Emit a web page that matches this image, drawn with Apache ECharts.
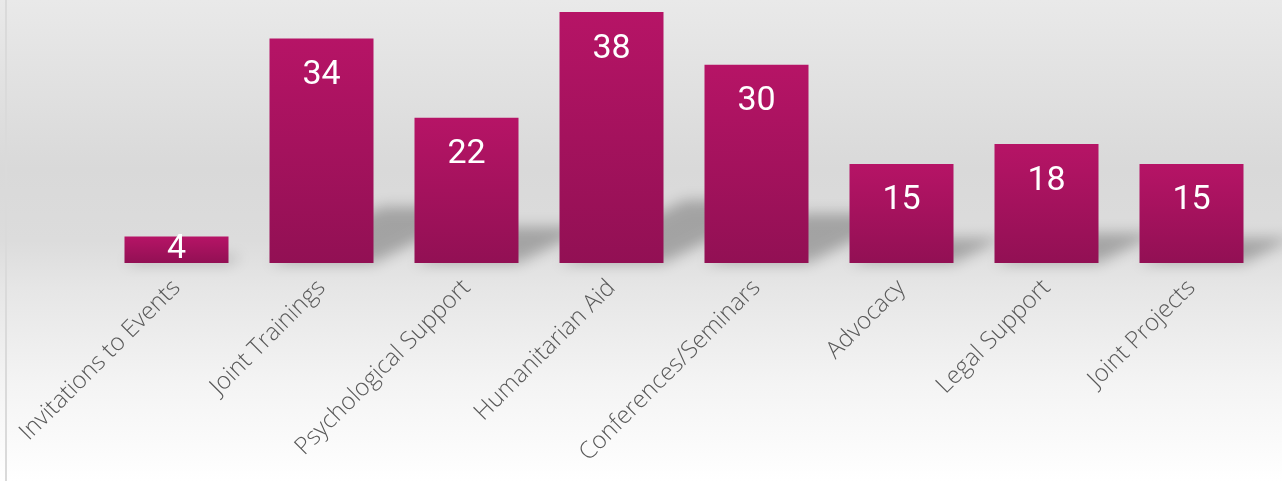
<!DOCTYPE html>
<html><head><meta charset="utf-8">
<script src="https://cdn.jsdelivr.net/npm/echarts@6/dist/echarts.min.js"></script>
<style>html,body{margin:0;padding:0;overflow:hidden;} #c{width:1282px;height:481px;}</style>
</head><body><div id="c"></div>
<script>
const categories = ['Invitations to Events','Joint Trainings','Psychological Support','Humanitarian Aid','Conferences/Seminars','Advocacy','Legal Support','Joint Projects'];
const values = [4, 34, 22, 38, 30, 15, 18, 15];
const yMax = 38;

const chart = echarts.init(document.getElementById('c'), null, {renderer: 'canvas'});
const BAR_W = 104;
const OFF = 3000;

const barData = values.map(v => v < 6 ? {value: v, label: {position: 'inside', distance: 0}} : v);

chart.setOption({
  animation: false,
  backgroundColor: {
    type: 'linear', x: 0, y: 0, x2: 0, y2: 1,
    colorStops: [
      {offset: 0, color: '#e9e9e9'},
      {offset: 0.35, color: '#d9d9d9'},
      {offset: 0.5, color: '#dcdcdc'},
      {offset: 0.6, color: '#e6e6e6'},
      {offset: 0.8, color: '#f4f4f4'},
      {offset: 1, color: '#ffffff'}
    ]
  },
  graphic: [{type: 'rect', left: 5, top: 0, shape: {width: 2, height: 481}, style: {fill: '#dadada'}, z: 0}],
  grid: {left: 104, right: 18, top: 12, bottom: 218, containLabel: false},
  xAxis: {
    type: 'category', data: categories,
    axisLine: {show: false}, axisTick: {show: false},
    axisLabel: {interval: 0, rotate: 45, margin: 21, fontFamily: 'Open Sans', fontWeight: 300, fontSize: 24, color: '#595959'}
  },
  yAxis: {type: 'value', min: 0, max: yMax, show: false, splitLine: {show: false}},
  series: [
    {
      type: 'custom', z: 1, clip: false, silent: true,
      data: values.map((v, i) => [i, v]),
      renderItem: function (params, api) {
        const base = api.coord([api.value(0), 0]);
        const top = api.coord([api.value(0), api.value(1)]);
        const h = base[1] - top[1];
        const hs = 0.25 * h;
        const s = 2 * hs;
        const x0 = base[0] - BAR_W / 2, x1 = base[0] + BAR_W / 2, y0 = base[1];
        return {
          type: 'polygon',
          shape: {points: [[x0 - OFF, y0], [x1 - OFF, y0], [x1 + s - OFF, y0 - hs], [x0 + s - OFF, y0 - hs]]},
          style: {fill: '#000', shadowBlur: 14, shadowColor: 'rgba(0,0,0,0.26)', shadowOffsetX: OFF, shadowOffsetY: 0}
        };
      }
    },
    {
      type: 'bar', z: 2, data: barData, barWidth: BAR_W,
      itemStyle: {
        color: {type: 'linear', x: 0, y: 0, x2: 0, y2: 1, colorStops: [
          {offset: 0, color: '#b61466'}, {offset: 1, color: '#921054'}
        ]}
      },
      label: {show: true, position: 'insideTop', distance: 20, color: '#ffffff', fontFamily: 'Roboto', fontSize: 34}
    }
  ]
});
</script>
</body></html>
